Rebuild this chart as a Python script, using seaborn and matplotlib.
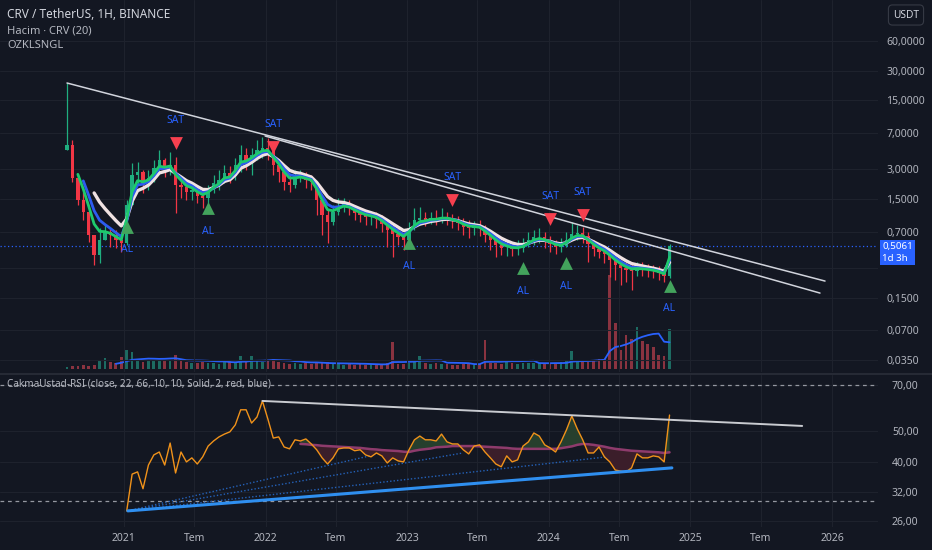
import numpy as np
import pandas as pd
import matplotlib
matplotlib.use("Agg")
import matplotlib.pyplot as plt
import matplotlib.dates as mdates
import matplotlib.transforms as mtrans
from matplotlib.lines import Line2D
from matplotlib.ticker import NullLocator
import seaborn as sns

# ===== Data (14-day candles) =====
start_date = "2020-08-07"
first_open = 4.71

closes = [
    5.29, 2.45, 1.47, 1.11, 0.647, 0.405, 0.575, 0.694, 0.647, 0.575,
    0.536, 1.30, 2.63, 2.82, 2.18, 2.45, 3.09, 3.73, 3.09, 3.32,
    2.08, 1.99, 1.77, 1.85, 1.61, 1.54, 1.85, 2.18, 2.34, 2.75,
    2.57, 3.32, 4.19, 3.73, 4.19, 4.71, 4.93, 4.71, 3.32, 2.82,
    2.23, 2.08, 2.45, 2.57, 2.34, 2.23, 1.47, 1.03, 0.877, 1.11,
    1.27, 1.34, 1.21, 1.08, 1.03, 0.985, 0.985, 0.94, 0.836, 0.727,
    0.662, 0.617, 0.575, 0.762, 0.919, 0.962, 0.919, 0.962, 0.94, 0.985,
    0.962, 0.897, 0.856, 0.78, 0.762, 0.78, 0.762, 0.647, 0.575, 0.512,
    0.477, 0.477, 0.466, 0.477, 0.512, 0.575, 0.617, 0.617, 0.562, 0.524,
    0.488, 0.50, 0.575, 0.662, 0.678, 0.632, 0.524, 0.466, 0.435, 0.415,
    0.361, 0.321, 0.299, 0.286, 0.279, 0.299, 0.292, 0.286, 0.279, 0.266,
    0.248, 0.5061,
]
highs = [
    22.5, 5.95, 2.34, 1.77, 1.03, 0.647, 0.762, 0.817, 0.762, 0.727,
    0.647, 1.47, 3.48, 3.56, 2.95, 2.95, 3.73, 4.71, 3.91, 4.49,
    4.00, 2.45, 2.23, 2.18, 2.03, 1.85, 2.08, 2.63, 2.95, 3.32,
    3.24, 3.91, 5.29, 4.93, 4.93, 5.95, 6.38, 6.23, 5.29, 3.73,
    3.09, 2.63, 2.95, 2.95, 2.82, 2.63, 2.18, 1.47, 1.16, 1.30,
    1.54, 1.54, 1.47, 1.30, 1.21, 1.16, 1.11, 1.11, 1.03, 0.919,
    0.817, 0.762, 0.694, 0.877, 1.21, 1.24, 1.11, 1.11, 1.16, 1.21,
    1.11, 1.056, 1.008, 0.962, 0.919, 0.897, 0.919, 0.817, 0.694, 0.632,
    0.575, 0.575, 0.549, 0.575, 0.603, 0.694, 0.727, 0.762, 0.694, 0.632,
    0.575, 0.603, 0.694, 0.877, 0.817, 0.78, 0.694, 0.575, 0.524, 0.50,
    0.455, 0.396, 0.361, 0.344, 0.336, 0.344, 0.344, 0.329, 0.321, 0.314,
    0.299, 0.524,
]
lows = [
    4.71, 2.23, 1.30, 0.919, 0.549, 0.321, 0.336, 0.575, 0.488, 0.477,
    0.435, 0.512, 1.30, 2.08, 1.73, 1.85, 2.23, 2.82, 2.51, 2.63,
    1.081, 1.54, 1.47, 1.47, 1.37, 1.21, 1.30, 1.73, 1.85, 2.18,
    2.18, 2.34, 2.82, 2.95, 2.63, 3.73, 3.91, 3.73, 2.63, 2.23,
    1.85, 1.77, 1.94, 2.23, 1.94, 1.85, 1.03, 0.647, 0.536, 0.817,
    1.03, 1.11, 1.03, 0.919, 0.877, 0.817, 0.817, 0.762, 0.694, 0.488,
    0.387, 0.512, 0.455, 0.536, 0.727, 0.817, 0.798, 0.836, 0.817, 0.856,
    0.817, 0.762, 0.727, 0.647, 0.603, 0.647, 0.632, 0.549, 0.455, 0.387,
    0.405, 0.396, 0.396, 0.405, 0.435, 0.488, 0.512, 0.536, 0.477, 0.435,
    0.415, 0.435, 0.488, 0.575, 0.575, 0.536, 0.344, 0.396, 0.378, 0.336,
    0.243, 0.226, 0.202, 0.216, 0.179, 0.248, 0.248, 0.243, 0.237, 0.226,
    0.216, 0.237,
]
volumes = [
    2, 3, 3, 4, 3, 4, 9, 11, 7, 6,
    12, 19, 17, 8, 7, 8, 8, 9, 8, 9,
    14, 10, 7, 6, 6, 7, 6, 6, 5, 9,
    8, 7, 13, 7, 13, 8, 7, 9, 10, 7,
    6, 5, 6, 5, 6, 5, 7, 6, 7, 5,
    5, 4, 5, 4, 5, 4, 5, 4, 5, 6,
    27, 5, 5, 6, 7, 13, 6, 5, 6, 5,
    5, 4, 4, 5, 5, 4, 5, 29, 6, 6,
    5, 7, 6, 5, 6, 6, 6, 6, 5, 6,
    6, 7, 8, 18, 9, 8, 7, 9, 10, 10,
    94, 46, 19, 34, 30, 42, 28, 25, 22, 14,
    13, 40,
]
last_price = 0.5061

rsi_start = 11
rsi_vals = [
    27.9, 36.5, 37.1, 32.8, 39.0, 42.0, 42.9, 39.0, 45.8,
    36.8, 42.9, 39.9, 41.1, 39.3, 41.4, 44.8, 46.5, 47.9, 48.9,
    49.7, 52.3, 58.4, 58.4, 53.0, 55.4, 62.3, 54.6, 47.5, 47.9,
    44.5, 43.9, 46.9, 46.5, 47.2, 45.5, 43.6, 41.1, 39.3, 41.1,
    43.9, 44.2, 44.2, 43.3, 43.6, 42.0, 41.4, 42.6, 41.7, 39.6,
    41.1, 40.2, 39.9, 43.6, 46.9, 48.2, 46.9, 46.9, 46.5, 48.9,
    46.2, 45.5, 45.5, 43.6, 42.3, 44.8, 45.2, 42.9, 41.1, 39.3,
    38.5, 41.7, 39.9, 40.5, 44.8, 46.2, 49.3, 48.2, 45.2, 44.2,
    42.9, 46.2, 50.4, 55.8, 50.8, 46.9, 42.6, 42.6, 44.5, 41.4,
    39.9, 37.6, 37.3, 37.1, 38.2, 42.3, 41.1, 41.1, 41.7, 41.4,
    39.9, 56.2,
]
rsi_ma_start = 43
rsi_ma_vals = [
    45.5, 45.4, 45.2, 45.1, 44.9, 44.8, 44.7,
    44.6, 44.5, 44.4, 44.3, 44.2, 44.0, 43.8, 43.7, 43.5, 43.4,
    43.3, 43.2, 43.0, 42.9, 43.3, 43.6, 43.8, 44.0, 44.4, 44.5,
    44.6, 44.8, 44.8, 44.8, 44.8, 44.8, 44.7, 44.6, 44.5, 44.4,
    44.3, 44.2, 44.0, 43.9, 43.9, 43.9, 43.9, 43.9, 43.9, 43.9,
    43.9, 44.1, 44.4, 44.7, 45.2, 45.5, 45.4, 45.2, 44.9, 44.6,
    44.2, 43.9, 43.7, 43.5, 43.3, 43.2, 43.1, 43.0, 42.9, 42.8,
    42.6, 42.8,
]

# signals (candle index, marker price)
sat_idx = [20, 38, 71, 89, 95]
sat_level = [5.55, 5.05, 1.47, 0.94, 1.03]
al_idx = [11, 26, 63, 84, 92, 111]
al_level = [0.78, 1.21, 0.536, 0.299, 0.336, 0.197]

# hand-drawn trend lines: (date, value) pairs
price_lines = [
    (("2020-08-07", 22.5), ("2025-12-14", 0.221)),
    (("2021-12-31", 6.53), ("2025-12-01", 0.167)),
]
rsi_top_line = (("2021-12-24", 62.3), ("2025-10-16", 51.9))
rsi_base_line = (("2021-01-11", 27.9), ("2024-11-14", 38.2))
rsi_fan_ends = [("2022-09-27", 41.7), ("2023-05-25", 42.6), ("2024-05-30", 41.4)]

price_ticks = [60, 30, 15, 7, 3, 1.5, 0.7, 0.15, 0.07, 0.035]
rsi_ticks = [70, 50, 40, 32, 26]
tick_dates = ["2021-01-01", "2021-07-01", "2022-01-01", "2022-07-01", "2023-01-01",
              "2023-07-01", "2024-01-01", "2024-07-01", "2025-01-01", "2025-07-01",
              "2026-01-01"]
tick_labels = ["2021", "Tem", "2022", "Tem", "2023", "Tem", "2024", "Tem", "2025", "Tem", "2026"]

# ===== Frame =====
df = pd.DataFrame({"close": closes, "high": highs, "low": lows, "volume": volumes})
df["date"] = pd.date_range(start_date, periods=len(df), freq="14D")
df["x"] = mdates.date2num(df["date"])
df["open"] = df["close"].shift(1).fillna(first_open)
df["high"] = df[["high", "open", "close"]].max(axis=1)
df["low"] = df[["low", "open", "close"]].min(axis=1)
df["up"] = df["close"] >= df["open"]
df["ema_g"] = df["close"].ewm(span=3, adjust=False).mean()
df["ema_b"] = df["close"].ewm(span=4, adjust=False).mean()
df["ema_w"] = df["close"].ewm(span=6, adjust=False).mean()
df["vol_ma"] = df["volume"].rolling(10, min_periods=1).mean()
df["rsi"] = np.nan
df.loc[rsi_start:, "rsi"] = rsi_vals
df["rsi_ma"] = np.nan
df.loc[rsi_ma_start:, "rsi_ma"] = rsi_ma_vals

# ===== Style =====
BG = "#131722"
GRID = "#1e222d"
TXT = "#b2b5be"
UP, DOWN = "#1fae7f", "#f23645"

sns.set_theme(style="dark", rc={
    "axes.facecolor": BG, "figure.facecolor": BG, "savefig.facecolor": BG,
    "axes.edgecolor": BG, "grid.color": GRID, "text.color": TXT,
    "xtick.color": TXT, "ytick.color": TXT, "axes.labelcolor": TXT,
})
plt.rcParams["font.family"] = ["Noto Sans", "DejaVu Sans"]

W, H = 932, 550


def px_rect(x0, y0, x1, y1):
    return [x0 / W, 1 - y1 / H, (x1 - x0) / W, (y1 - y0) / H]


fig = plt.figure(figsize=(W / 100, H / 100), dpi=100)
axv = fig.add_axes(px_rect(0, 0, 878, 372))
ax = fig.add_axes(px_rect(0, 0, 878, 372), sharex=axv)
axr = fig.add_axes(px_rect(0, 375, 878, 527), sharex=axv)
ax.set_facecolor("none")
for a in (ax, axv, axr):
    for s in a.spines.values():
        s.set_visible(False)

d2021 = mdates.date2num(pd.Timestamp("2021-01-01"))
axr.set_xlim(d2021 - 319.8, d2021 + 1944.6)

# ===== Volume (behind price) =====
vol_cols = np.where(df["up"], "#1d6b62", "#8a3340")
axv.bar(df["x"], df["volume"], width=7, color=vol_cols, linewidth=0)
sns.lineplot(data=df.iloc[9:], x="x", y="vol_ma", ax=axv, color="#2962ff", lw=1.3)
axv.set_ylim(-3, 369)
axv.set_yticks([])
axv.set_xlabel("")
axv.set_ylabel("")
axv.tick_params(axis="x", labelbottom=False, length=0)

# ===== Price pane =====
ax.set_yscale("log")
cols = np.where(df["up"], UP, DOWN)
body_lo = df[["open", "close"]].min(axis=1)
body_hi = df[["open", "close"]].max(axis=1)
ax.vlines(df["x"], df["low"], df["high"], colors=cols, lw=0.9, zorder=2)
ax.bar(df["x"], body_hi - body_lo, bottom=body_lo, width=8.5, color=cols, linewidth=0, zorder=2)

sns.lineplot(data=df.iloc[5:], x="x", y="ema_w", ax=ax, color="#f0e2e2", lw=2.4, zorder=3)
sns.lineplot(data=df.iloc[3:], x="x", y="ema_b", ax=ax, color="#2d5cf0", lw=2.0, zorder=3)
sns.lineplot(data=df.iloc[2:], x="x", y="ema_g", ax=ax, color="#1ec96c", lw=2.0, zorder=3)

for (d0, v0), (d1, v1) in price_lines:
    ax.plot(mdates.date2num(pd.to_datetime([d0, d1])), [v0, v1], color="#d1d4dc", lw=1.1, zorder=3)

ax.axhline(last_price, color="#2962ff", lw=0.9, ls=(0, (1, 2)), zorder=1)

sx = df["x"].values[sat_idx]
ax.scatter(sx, sat_level, marker="v", s=85, color="#f7404f", linewidths=0, zorder=5)
for xx, lv in zip(sx, sat_level):
    ax.annotate("SAT", (xx, lv), xytext=(0, 16), textcoords="offset points",
                ha="center", va="center", color="#2962ff", fontsize=7.5)
lx = df["x"].values[al_idx]
ax.scatter(lx, al_level, marker="^", s=85, color="#43a35c", linewidths=0, zorder=5)
for xx, lv in zip(lx, al_level):
    ax.annotate("AL", (xx, lv), xytext=(0, -16.5), textcoords="offset points",
                ha="center", va="center", color="#2962ff", fontsize=7.5)

ax.set_ylim(0.02646, 156.2)
ax.yaxis.tick_right()
ax.set_yticks(price_ticks)
ax.set_yticklabels([f"{v:.4f}".replace(".", ",") for v in price_ticks])
ax.yaxis.set_minor_locator(NullLocator())
ax.axhline(0.3, color=GRID, lw=0.8, zorder=0)
ax.tick_params(axis="y", length=0, pad=6, labelsize=7.5, labelcolor=TXT)
ax.tick_params(axis="x", labelbottom=False, length=0)
ax.grid(True, color=GRID, lw=0.8)
ax.set_xlabel("")
ax.set_ylabel("")

# last price tag, first line level with the price
blend = mtrans.blended_transform_factory(ax.transAxes, ax.transData)
ax.annotate("0,5061\n1d 3h", (1.0, last_price), xycoords=blend, xytext=(3, -5),
            textcoords="offset points", ha="left", va="center", fontsize=7,
            color="white", linespacing=1.3, annotation_clip=False,
            bbox=dict(boxstyle="square,pad=0.25", fc="#2962ff", ec="none"))

# ===== RSI pane =====
axr.set_yscale("log")
rs = df.iloc[rsi_ma_start:]
axr.fill_between(rs["x"], rs["rsi"], rs["rsi_ma"], where=rs["rsi"] >= rs["rsi_ma"],
                 interpolate=True, color="#263f2d", lw=0, zorder=1)
axr.fill_between(rs["x"], rs["rsi"], rs["rsi_ma"], where=rs["rsi"] < rs["rsi_ma"],
                 interpolate=True, color="#3b1e2a", lw=0, zorder=1)
sns.lineplot(data=rs, x="x", y="rsi_ma", ax=axr, color="#8e3b6c", lw=1.8, zorder=2)
sns.lineplot(data=df.iloc[rsi_start:], x="x", y="rsi", ax=axr, color="#f0921a", lw=1.0, zorder=3)

for lvl in (70, 30):
    axr.axhline(lvl, color="#9598a1", lw=0.9, ls=(0, (3, 3)), zorder=1)

(t0, tv0), (t1, tv1) = rsi_top_line
axr.plot(mdates.date2num(pd.to_datetime([t0, t1])), [tv0, tv1], color="#c9cbd1", lw=1.4, zorder=3)
(b0, bv0), (b1, bv1) = rsi_base_line
for fd, fv in rsi_fan_ends:
    axr.plot(mdates.date2num(pd.to_datetime([b0, fd])), [bv0, fv], color="#2461b8",
             lw=1.0, ls=(0, (1, 1.5)), zorder=2)
axr.plot(mdates.date2num(pd.to_datetime([b0, b1])), [bv0, bv1], color="#2f8ff0", lw=2.2, zorder=3)

axr.set_ylim(24.8, 75.3)
axr.yaxis.tick_right()
axr.set_yticks(rsi_ticks)
axr.set_yticklabels([f"{v:.2f}".replace(".", ",") for v in rsi_ticks])
axr.yaxis.set_minor_locator(NullLocator())
axr.grid(True, color=GRID, lw=0.8)
axr.set_xticks(mdates.date2num(pd.to_datetime(tick_dates)))
axr.set_xticklabels(tick_labels)
for lab in axr.get_xticklabels():
    if lab.get_text() != "Tem":
        lab.set_fontweight("bold")
axr.tick_params(axis="y", length=0, pad=10, labelsize=7.5, labelcolor=TXT)
axr.tick_params(axis="x", length=0, pad=4, labelsize=7.5, labelcolor=TXT)
axr.set_xlabel("")
axr.set_ylabel("")

# ===== Texts and frame details =====
fig.add_artist(Line2D([0, 1], [1 - 373.5 / H] * 2, color="#2a2e39", lw=1.2))
fig.text(7 / W, 1 - 15 / H, "CRV / TetherUS, 1H, BINANCE", fontsize=8.5, color="#d1d4dc", va="center")
fig.text(7 / W, 1 - 31 / H, "Hacim · CRV (20)", fontsize=8, color=TXT, va="center")
fig.text(7 / W, 1 - 46 / H, "OZKLSNGL", fontsize=8, color=TXT, va="center")
fig.text(7 / W, 1 - 384 / H, "CakmaUstad-RSI (close, 22, 66, 10, 10, Solid, 2, red, blue)",
         fontsize=7.2, color=TXT, va="center")
fig.text(906 / W, 1 - 15 / H, "USDT", fontsize=7.3, color="#d1d4dc", ha="center", va="center",
         bbox=dict(boxstyle="round,pad=0.45,rounding_size=0.4", fc=BG, ec="#363a45", lw=0.8))

fig.savefig("out.png", dpi=100, facecolor=BG)
